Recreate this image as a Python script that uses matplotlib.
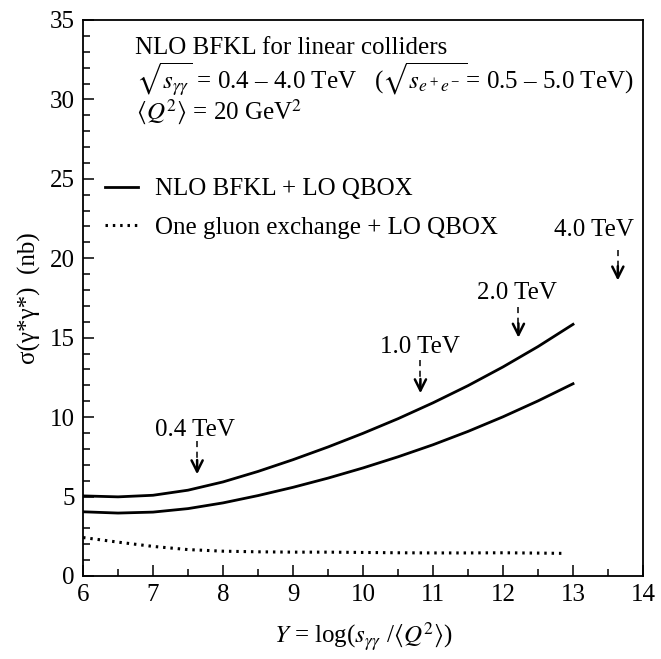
import numpy as np
import matplotlib
matplotlib.use("Agg")
import matplotlib.pyplot as plt

plt.rcParams['font.family'] = ['Liberation Serif', 'DejaVu Serif']
plt.rcParams['mathtext.fontset'] = 'stix'

# values
y_nlo = [6.0, 6.5, 7.0, 7.5, 8.0, 8.5, 9.0, 9.5, 10.0, 10.5, 11.0, 11.5, 12.0, 12.5, 13.0]
sigma_nlo_upper = [5.04, 4.98, 5.08, 5.40, 5.92, 6.58, 7.32, 8.12, 8.98, 9.90, 10.90, 11.98, 13.16, 14.44, 15.84]
sigma_nlo_lower = [4.04, 3.96, 4.02, 4.24, 4.60, 5.06, 5.58, 6.16, 6.80, 7.50, 8.26, 9.10, 10.02, 11.02, 12.10]

y_one = [6.0, 6.5, 7.0, 7.5, 8.0, 8.5, 9.0, 9.5, 10.0, 10.5, 11.0, 11.5, 12.0, 12.5, 12.9]
sigma_one = [2.42, 2.13, 1.86, 1.66, 1.56, 1.52, 1.5, 1.5, 1.48, 1.46, 1.45, 1.45, 1.46, 1.44, 1.42]

# energy markers: label, arrow x, arrow tip, shaft top, label position
energy_labels = ['0.4 TeV', '1.0 TeV', '2.0 TeV', '4.0 TeV']
energy_x = [7.63, 10.82, 12.22, 13.64]
energy_tip = [6.4, 11.5, 15.0, 18.6]
energy_top = [8.5, 13.6, 16.95, 20.5]
energy_label_x = [7.6, 10.82, 12.2, 13.3]
energy_label_y = [9.2, 14.4, 17.8, 21.8]

fs = 18

fig = plt.figure(figsize=(6.61, 6.59), dpi=100)
ax = fig.add_axes([0.1256, 0.126, 0.8472, 0.8437])

ax.plot(y_nlo, sigma_nlo_upper, color='black', lw=2.0, solid_joinstyle='round',
        label='NLO BFKL + LO QBOX')
ax.plot(y_nlo, sigma_nlo_lower, color='black', lw=2.0, solid_joinstyle='round')
ax.plot(y_one, sigma_one, color='black', lw=2.2, linestyle=(0, (0.8, 1.6)),
        label='One gluon exchange + LO QBOX')

for lab, x, tip, top, lx, ly in zip(energy_labels, energy_x, energy_tip, energy_top,
                                     energy_label_x, energy_label_y):
    ax.plot([x, x], [top, tip + 0.15], color='black', lw=1.1, linestyle=(0, (4, 3)))
    ax.annotate('', xy=(x, tip), xytext=(x, tip + 0.9),
                arrowprops=dict(arrowstyle='->', color='black', lw=1.8,
                                mutation_scale=20, shrinkA=0, shrinkB=0))
    ax.text(lx, ly, lab, ha='center', va='center', fontsize=fs)

ax.text(6.74, 33.25, 'NLO BFKL for linear colliders', fontsize=fs, va='center')
ax.text(6.76, 31.2, r'$\sqrt{s_{\gamma\gamma}}$ = 0.4 – 4.0 TeV   ($\sqrt{s_{e^+e^-}}$= 0.5 – 5.0 TeV)',
        fontsize=fs, va='center')
ax.text(6.76, 29.2, r'$\langle Q^2\rangle$ = 20 GeV$^2$', fontsize=fs, va='center')

leg = ax.legend(loc='upper left', bbox_to_anchor=(0.04, 0.716), frameon=False,
                fontsize=fs, handlelength=1.3, handletextpad=0.7, labelspacing=0.63,
                borderpad=0, borderaxespad=0)

ax.set_xlim(6, 14)
ax.set_ylim(0, 35)
ax.set_xticks(np.arange(6, 15, 1))
ax.set_xticks(np.arange(6, 14, 0.5), minor=True)
ax.set_yticks(np.arange(0, 36, 5))
ax.set_yticks(np.arange(0, 35, 1), minor=True)
ax.tick_params(which='both', direction='in', top=False, right=False, labelsize=fs)
ax.tick_params(which='major', length=8, width=1.1, pad=6)
ax.tick_params(which='minor', length=5, width=1.1)
for s in ax.spines.values():
    s.set_linewidth(1.3)

ax.set_xlabel(r'$Y$ = log($s_{\gamma\gamma}$ /$\langle Q^2\rangle$)', fontsize=fs, labelpad=10)
ax.set_ylabel(r'σ(γ*γ*)  (nb)', fontsize=fs, labelpad=6)

fig.savefig('out.png', dpi=100)
